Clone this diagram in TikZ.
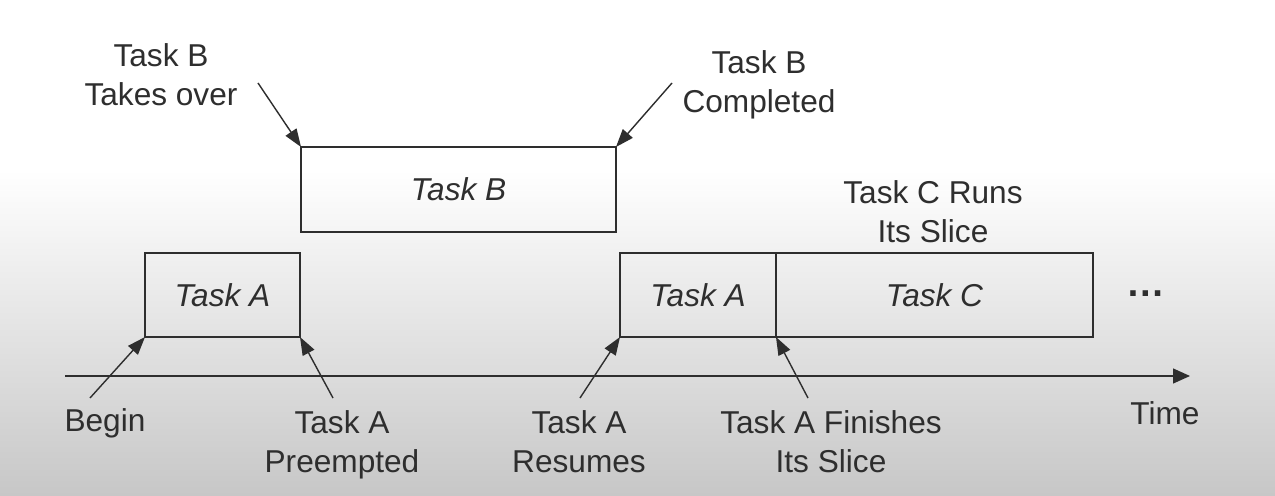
\documentclass[tikz,border=0pt]{standalone}
\usepackage{fontspec}
\setmainfont{Liberation Sans}
\usetikzlibrary{positioning,arrows.meta}
\definecolor{ink}{HTML}{2E2E2E}
\tikzset{
  slot/.style={draw=ink, line width=0.8pt, inner sep=0pt, outer sep=0pt, minimum height=1.68cm, font=\fontsize{18}{22}\selectfont\itshape, text=ink},
  lbl/.style={align=center, font=\fontsize{18}{22}\selectfont, text=ink, inner sep=0pt},
  ptr/.style={draw=ink, line width=0.8pt, -{Triangle[length=0.36cm,width=0.26cm]}}
}

\begin{document}
\begin{tikzpicture}[x=0.02cm, y=-0.02cm]
\fill[white] (0,0) rectangle (1275,170);
\shade[top color=white, bottom color=black!22] (0,170) rectangle (1275,496);
\useasboundingbox (0,0) rectangle (1275,496);

\node[slot, minimum width=3.1cm] (a1) at (222.5,295) {Task A};
\node[slot, minimum width=6.3cm, minimum height=1.7cm] (b) at (458.5,189.5) {Task B};
\node[slot, minimum width=3.12cm] (a2) at (698,295) {Task A};
\node[slot, minimum width=6.34cm, right=0pt of a2] (c) {Task C};
\node[lbl, font=\fontsize{22}{22}\selectfont\bfseries] (more) at (1146,294) {…};

\coordinate (t0) at (65,376);
\coordinate (t1) at (1190,376);
\draw[draw=ink, line width=0.8pt, -{Triangle[length=0.34cm,width=0.3cm]}] (t0) -- (t1);

\node[lbl] (begin) at (105,423) {Begin};
\node[lbl] (pre) at (342,445) {Task A\\Preempted};
\node[lbl] (res) at (579,442) {Task A\\Resumes};
\node[lbl] (fin) at (831,442) {Task A Finishes\\Its Slice};
\node[lbl] (time) at (1165,413) {Time};
\node[lbl] (take) at (161,75) {Task B\\Takes over};
\node[lbl] (done) at (759,85) {Task B\\Completed};
\node[lbl] (runs) at (933,212) {Task C Runs\\Its Slice};

\coordinate (p1) at (90,398);
\coordinate (p2) at (333,398);
\coordinate (p3) at (580,398);
\coordinate (p4) at (808,398);
\coordinate (p5) at (258,83);
\coordinate (p6) at (672,83);
\draw[ptr] (p1) -- (a1.south west);
\draw[ptr] (p2) -- (a1.south east);
\draw[ptr] (p3) -- (a2.south west);
\draw[ptr] (p4) -- (a2.south east);
\draw[ptr] (p5) -- (b.north west);
\draw[ptr] (p6) -- (b.north east);
\end{tikzpicture}
\end{document}
